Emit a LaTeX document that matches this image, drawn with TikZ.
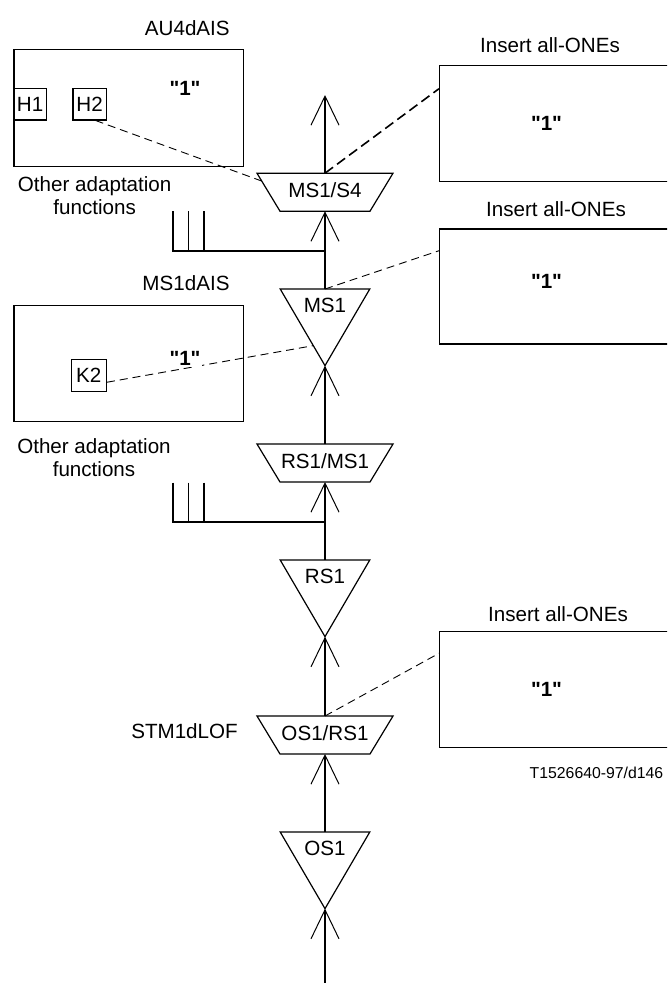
\documentclass[tikz,border=0pt]{standalone}
\usepackage{fontspec}
\setmainfont[Ligatures=TeXOff]{Liberation Sans}
\usetikzlibrary{shapes.geometric,arrows.meta}

\tikzset{
  every node/.style={font=\fontsize{20.6}{22.7}\selectfont},
  box/.style={draw, line width=1.2pt, anchor=north west, inner sep=0pt},
  fn/.style={trapezium, draw, line width=1.2pt, trapezium angle=58.8, shape border rotate=180,
    text width=88pt, align=center, inner xsep=1pt, inner ysep=0pt, text height=24pt, text depth=14pt, outer sep=0pt},
  term/.style={isosceles triangle, draw, line width=1.2pt, isosceles triangle apex angle=60.6, shape border rotate=-90,
    text width=51pt, align=center, inner sep=0pt, text height=23pt, text depth=10pt, outer sep=0pt, anchor=north},
  sig/.style={line width=1.6pt, -{Straight Barb[length=29pt,width=28pt,line width=1pt]}},
  bus/.style={line width=1.6pt},
  link/.style={line width=0.9pt, dash pattern=on 8pt off 5pt},
  one/.style={font=\fontsize{20.6}{22.7}\selectfont\bfseries}
}

\begin{document}
\begin{tikzpicture}[x=1pt,y=-1pt]
\useasboundingbox (0,0) rectangle (667,983);
\clip (0,0) rectangle (667,983);

% defect boxes on the left
\node at (187.3,28.3) {AU4dAIS};
\node[box, minimum width=229.4pt, minimum height=116.7pt] (au4) at (13.3,49) {};
\node[box, minimum width=32.4pt, minimum height=31.6pt] (h1) at (13.3,87.7) {H1};
\node[box, minimum width=33.4pt, minimum height=31.6pt] (h2) at (72.3,87.7) {H2};
\node[one] (au4one) at (185,88) {"1"};
\node[align=center] (oaf1) at (94.7,195.3) {Other adaptation\\functions};

\node at (186,283) {MS1dAIS};
\node[box, minimum width=229.4pt, minimum height=116.3pt] (ms1d) at (13.3,304.7) {};
\node[box, minimum width=35pt, minimum height=31.7pt] (k2) at (70.7,359) {K2};
\node[align=center] (oaf2) at (94,457.7) {Other adaptation\\functions};
\node at (184.5,730.7) {STM1dLOF};

% insert boxes on the right
\node at (550,45) {Insert all-ONEs};
\node[box, minimum width=250pt, minimum height=116pt] (ins1) at (439,65) {};
\node[one] at (546.5,123) {"1"};
\node at (556,209) {Insert all-ONEs};
\node[box, minimum width=250pt, minimum height=115pt] (ins2) at (439,228.3) {};
\node[one] at (546.5,281.7) {"1"};
\node at (558,614) {Insert all-ONEs};
\node[box, minimum width=250pt, minimum height=115.7pt] (ins3) at (439,631) {};
\node[one] at (546.5,689) {"1"};
\node[font=\fontsize{15.8}{18}\selectfont] at (596.5,773) {T1526640-97/d146};

% functions on the signal path
\node[fn] (ms1s4) at (325,192.2) {MS1/S4};
\node[term] (ms1) at (325,289) {MS1};
\node[fn] (rs1ms1) at (325,463) {RS1/MS1};
\node[term] (rs1) at (325,560) {RS1};
\node[fn] (os1rs1) at (325,735) {OS1/RS1};
\node[term] (os1) at (325,832) {OS1};

\coordinate (out) at (325,95);
\coordinate (in) at (325,983);
\draw[sig] (ms1s4.north) -- (out);
\draw[sig] (ms1.north) -- (ms1s4.south);
\draw[sig] (rs1ms1.north) -- (ms1.apex);
\draw[sig] (rs1.north) -- (rs1ms1.south);
\draw[sig] (os1rs1.north) -- (rs1.apex);
\draw[sig] (os1.north) -- (os1rs1.south);
\draw[sig] (in) -- (os1.apex);

% other adaptation functions
\coordinate (tap1) at (325,250.7);
\coordinate (tap2) at (325,521.7);
\draw[bus] (173,211) |- (tap1);
\draw[bus] (173,482.7) |- (tap2);
\foreach \x in {188.3,203.7} {
  \draw[bus] (\x,211) -- (\x,250.7);
  \draw[bus] (\x,482.7) -- (\x,521.7);
}

% dashed links
\draw[link] ([xshift=6pt]h2.south) -- (ms1s4.170);
\draw[line width=1.6pt, dash pattern=on 10pt off 5pt] (ms1s4.north) -- ([yshift=-23.7pt]ins1.north west);
\draw[link] (ms1.north) -- ([yshift=-22.4pt]ins2.north west);
\draw[link] ([yshift=-6.8pt]k2.east) -- ([xshift=-11.7pt,yshift=20pt]ms1.apex);
\node[one, fill=white, inner xsep=2pt, inner ysep=2pt] (ms1done) at (185,358.3) {"1"};
\draw[link] (os1rs1.north) -- ([yshift=-22.3pt]ins3.north west);
\end{tikzpicture}
\end{document}
